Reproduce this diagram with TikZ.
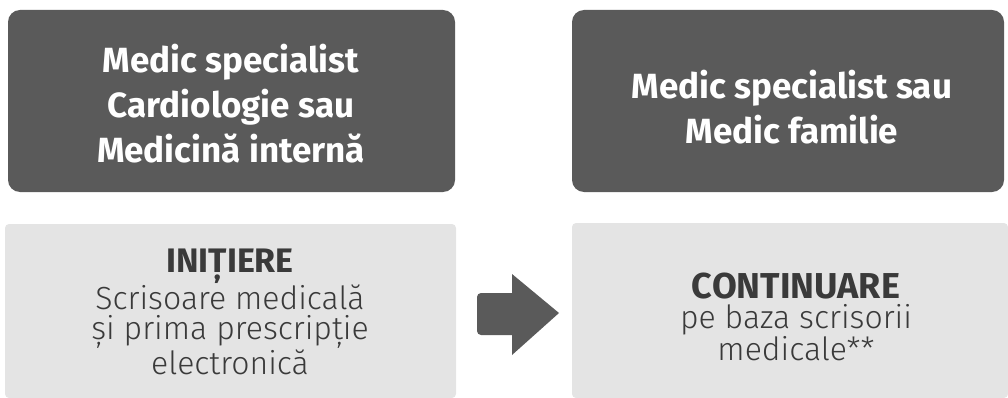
\documentclass[tikz,border=0pt]{standalone}
\usepackage{fontspec}
\setmainfont{Fira Sans}
\newfontfamily\lightfont{Fira Sans Light}
\definecolor{darkbox}{HTML}{5A5A5A}
\definecolor{lightbox}{HTML}{E4E4E4}
\definecolor{bodytext}{HTML}{3A3A3A}
\tikzset{
  darkpanel/.style={fill=darkbox, rounded corners=12pt},
  lightpanel/.style={fill=lightbox, rounded corners=4pt},
  toptext/.style={text=white, align=center, font=\bfseries\fontsize{35}{45}\selectfont},
  bottext/.style={text=bodytext, align=center, font=\lightfont\fontsize{32}{30}\selectfont},
  blockarrow/.style={fill=darkbox}
}
\begin{document}
\begin{tikzpicture}[x=1pt,y=-1pt]
\useasboundingbox (0,0) rectangle (1008,398);
\fill[darkpanel] (8,10) rectangle (455,192);
\fill[darkpanel] (572,10) rectangle (1004,192);
\fill[lightpanel] (5,224) rectangle (456,398);
\fill[lightpanel] (572,223) rectangle (1008,398);
\node[toptext] (tl) at (231,104) {Medic specialist\\Cardiologie sau\\Medicină internă};
\node[toptext] (tr) at (792,107) {Medic specialist sau\\Medic familie};
\node[bottext] (bl) at (230,312) {{\normalfont\bfseries\fontsize{34}{30}\selectfont INIȚIERE}\\Scrisoare medicală\\și prima prescripție\\electronică};
\node[bottext] (br) at (796,317) {{\normalfont\bfseries\fontsize{36}{30}\selectfont CONTINUARE}\\pe baza scrisorii\\medicale**};
\fill[blockarrow] (512,293) -- (512,274) -- (559,313) -- (512,355) -- (512,335)
  [rounded corners=4pt] -- (477,335) -- (477,293) [sharp corners] -- cycle;
\end{tikzpicture}
\end{document}
